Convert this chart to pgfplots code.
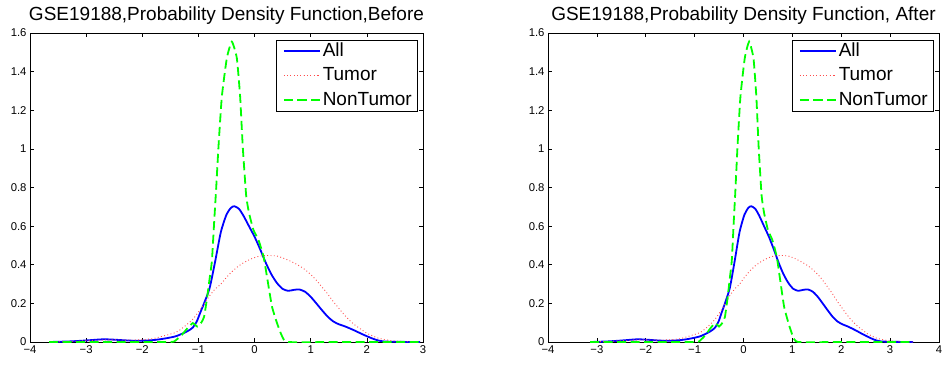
\documentclass[border=0pt]{standalone}
\usepackage{pgfplots}
\pgfplotsset{compat=1.18}
\usepackage{pgfplotstable}
\usepackage{fontspec}
\setmainfont{Liberation Sans}
\definecolor{mgreen}{rgb}{0,1,0}
\definecolor{mred}{rgb}{1,0.3,0.3}

% ---------- Before ----------
\pgfplotstableread{
x y
-3.66 0
-3.3 0.003
-3.0 0.008
-2.7 0.014
-2.5 0.012
-2.2 0.007
-2.0 0.007
-1.8 0.01
-1.6 0.018
-1.4 0.03
-1.2 0.055
-1.1 0.075
-1.03 0.106
-0.97 0.15
-0.9 0.2
-0.8 0.28
-0.7 0.42
-0.6 0.57
-0.5 0.66
-0.42 0.695
-0.36 0.703
-0.28 0.69
-0.2 0.655
-0.1 0.6
0.0 0.545
0.1 0.48
0.2 0.41
0.3 0.35
0.4 0.305
0.5 0.275
0.6 0.265
0.7 0.27
0.8 0.272
0.9 0.26
1.0 0.234
1.1 0.2
1.2 0.165
1.3 0.132
1.4 0.107
1.5 0.092
1.6 0.082
1.7 0.07
1.8 0.057
1.9 0.043
2.0 0.03
2.1 0.018
2.2 0.008
2.3 0.003
2.5 0.001
2.95 0
}\allL
\pgfplotstableread{
x y
-3.66 0
-3.3 0.003
-3.0 0.007
-2.6 0.011
-2.3 0.01
-2.0 0.012
-1.8 0.018
-1.6 0.033
-1.4 0.05
-1.25 0.08
-1.1 0.118
-0.95 0.175
-0.8 0.24
-0.7 0.275
-0.6 0.3
-0.5 0.335
-0.4 0.365
-0.3 0.39
-0.2 0.41
-0.1 0.425
0.0 0.437
0.1 0.445
0.25 0.448
0.4 0.445
0.55 0.43
0.7 0.41
0.85 0.385
1.0 0.35
1.1 0.32
1.2 0.285
1.3 0.25
1.4 0.21
1.5 0.175
1.6 0.14
1.7 0.11
1.8 0.085
1.9 0.065
2.0 0.045
2.1 0.032
2.2 0.02
2.35 0.011
2.5 0.005
2.7 0.002
2.95 0
}\tumL
\pgfplotstableread{
x y
-3.66 0
-2.5 0
-1.5 0
-1.4 0.01
-1.3 0.035
-1.2 0.07
-1.1 0.098
-1.02 0.08
-0.95 0.1
-0.9 0.13
-0.85 0.22
-0.8 0.33
-0.76 0.42
-0.72 0.62
-0.685 0.79
-0.643 1.01
-0.583 1.27
-0.494 1.47
-0.405 1.555
-0.316 1.47
-0.257 1.27
-0.21 1.01
-0.15 0.76
-0.1 0.67
-0.02 0.58
0.07 0.528
0.16 0.442
0.22 0.34
0.31 0.184
0.4 0.098
0.49 0.03
0.6 0
1.5 0
2.95 0
}\nonL

% ---------- After ----------
\pgfplotstableread{
x y
-3.14 0
-2.78 0.003
-2.48 0.008
-2.18 0.014
-1.98 0.012
-1.68 0.007
-1.48 0.007
-1.28 0.01
-1.08 0.018
-0.88 0.03
-0.68 0.055
-0.58 0.075
-0.51 0.106
-0.45 0.15
-0.38 0.2
-0.28 0.28
-0.18 0.42
-0.08 0.57
0.02 0.66
0.10 0.695
0.16 0.703
0.24 0.69
0.32 0.655
0.42 0.6
0.52 0.545
0.62 0.48
0.72 0.41
0.82 0.35
0.92 0.305
1.02 0.275
1.12 0.265
1.22 0.27
1.32 0.272
1.42 0.26
1.52 0.234
1.62 0.2
1.72 0.165
1.82 0.132
1.92 0.107
2.02 0.092
2.12 0.082
2.22 0.07
2.32 0.057
2.42 0.043
2.52 0.03
2.62 0.018
2.72 0.008
2.82 0.003
3.02 0.001
3.47 0
}\allR
\pgfplotstableread{
x y
-3.14 0
-2.78 0.003
-2.48 0.007
-2.08 0.011
-1.78 0.01
-1.48 0.012
-1.28 0.018
-1.08 0.033
-0.88 0.05
-0.73 0.08
-0.58 0.118
-0.43 0.175
-0.28 0.24
-0.18 0.275
-0.08 0.3
0.02 0.335
0.12 0.365
0.22 0.39
0.32 0.41
0.42 0.425
0.52 0.437
0.62 0.445
0.77 0.448
0.92 0.445
1.07 0.43
1.22 0.41
1.37 0.385
1.52 0.35
1.62 0.32
1.72 0.285
1.82 0.25
1.92 0.21
2.02 0.175
2.12 0.14
2.22 0.11
2.32 0.085
2.42 0.065
2.52 0.045
2.62 0.032
2.72 0.02
2.87 0.011
3.02 0.005
3.22 0.002
3.47 0
}\tumR
\pgfplotstableread{
x y
-3.14 0
-2.0 0
-0.98 0
-0.88 0.01
-0.78 0.035
-0.68 0.07
-0.58 0.098
-0.50 0.08
-0.43 0.1
-0.38 0.13
-0.33 0.22
-0.28 0.33
-0.24 0.42
-0.20 0.62
-0.165 0.79
-0.123 1.01
-0.063 1.27
0.026 1.47
0.115 1.555
0.204 1.47
0.263 1.27
0.31 1.01
0.37 0.76
0.42 0.67
0.50 0.58
0.59 0.528
0.68 0.442
0.74 0.34
0.83 0.184
0.92 0.098
1.01 0.03
1.12 0
2.0 0
3.47 0
}\nonR

\pgfplotsset{
  legend image code/.code={%
    \path (-4pt,0pt);
    \draw[mark repeat=2,mark phase=2,#1] plot coordinates {(0pt,0pt) (18pt,0pt) (36pt,0pt)};},
  pdfstyle/.style={
    scale only axis, anchor=south west,
    height=309pt,
    ymin=0, ymax=1.6,
    ytick={0,0.2,0.4,0.6,0.8,1,1.2,1.4,1.6},
    yticklabels={0,0.2,0.4,0.6,0.8,1,1.2,1.4,1.6},
    tick align=inside, tick pos=both,
    major tick length=4pt,
    axis line style={line width=0.8pt},
    every tick/.style={black, line width=0.6pt},
    tick label style={font=\fontsize{11.3}{13}\selectfont},
    title style={font=\fontsize{19}{22}\selectfont, yshift=-1pt},
    legend cell align=left,
    legend style={at={(1,1)}, anchor=north east, xshift=-6pt, yshift=-7pt,
      draw=black, inner xsep=3pt, inner ysep=2pt,
      font=\fontsize{19}{22}\selectfont,
      nodes={inner xsep=2pt, inner ysep=0pt, text height=14pt, text depth=4pt},
      row sep=6.5pt},
    clip=true,
  }
}

\begin{document}
\begin{tikzpicture}
\path[use as bounding box] (0,0) rectangle (945pt,365pt);
\begin{axis}[pdfstyle, at={(30pt,23pt)}, width=393pt,
  xmin=-4, xmax=3,
  xtick={-4,-3,-2,-1,0,1,2,3},
  xticklabels={−4,−3,−2,−1,0,1,2,3},
  title={GSE19188,Probability Density Function,Before}]
\addplot[blue, line width=1.8pt, smooth, tension=0.4] table {\allL};
\addplot[mred, line width=0.9pt, dash pattern=on 0.9pt off 2.4pt, smooth, tension=0.4] table {\tumL};
\addplot[mgreen, line width=1.8pt, dash pattern=on 9pt off 4.5pt, smooth, tension=0.3] table {\nonL};
\legend{All,Tumor,NonTumor}
\end{axis}
\begin{axis}[pdfstyle, at={(548pt,23pt)}, width=391pt,
  xmin=-4, xmax=4,
  xtick={-4,-3,-2,-1,0,1,2,3,4},
  xticklabels={−4,−3,−2,−1,0,1,2,3,4},
  title={GSE19188,Probability Density Function, After}]
\addplot[blue, line width=1.8pt, smooth, tension=0.4] table {\allR};
\addplot[mred, line width=0.9pt, dash pattern=on 0.9pt off 2.4pt, smooth, tension=0.4] table {\tumR};
\addplot[mgreen, line width=1.8pt, dash pattern=on 9pt off 4.5pt, smooth, tension=0.3] table {\nonR};
\legend{All,Tumor,NonTumor}
\end{axis}
\end{tikzpicture}
\end{document}
